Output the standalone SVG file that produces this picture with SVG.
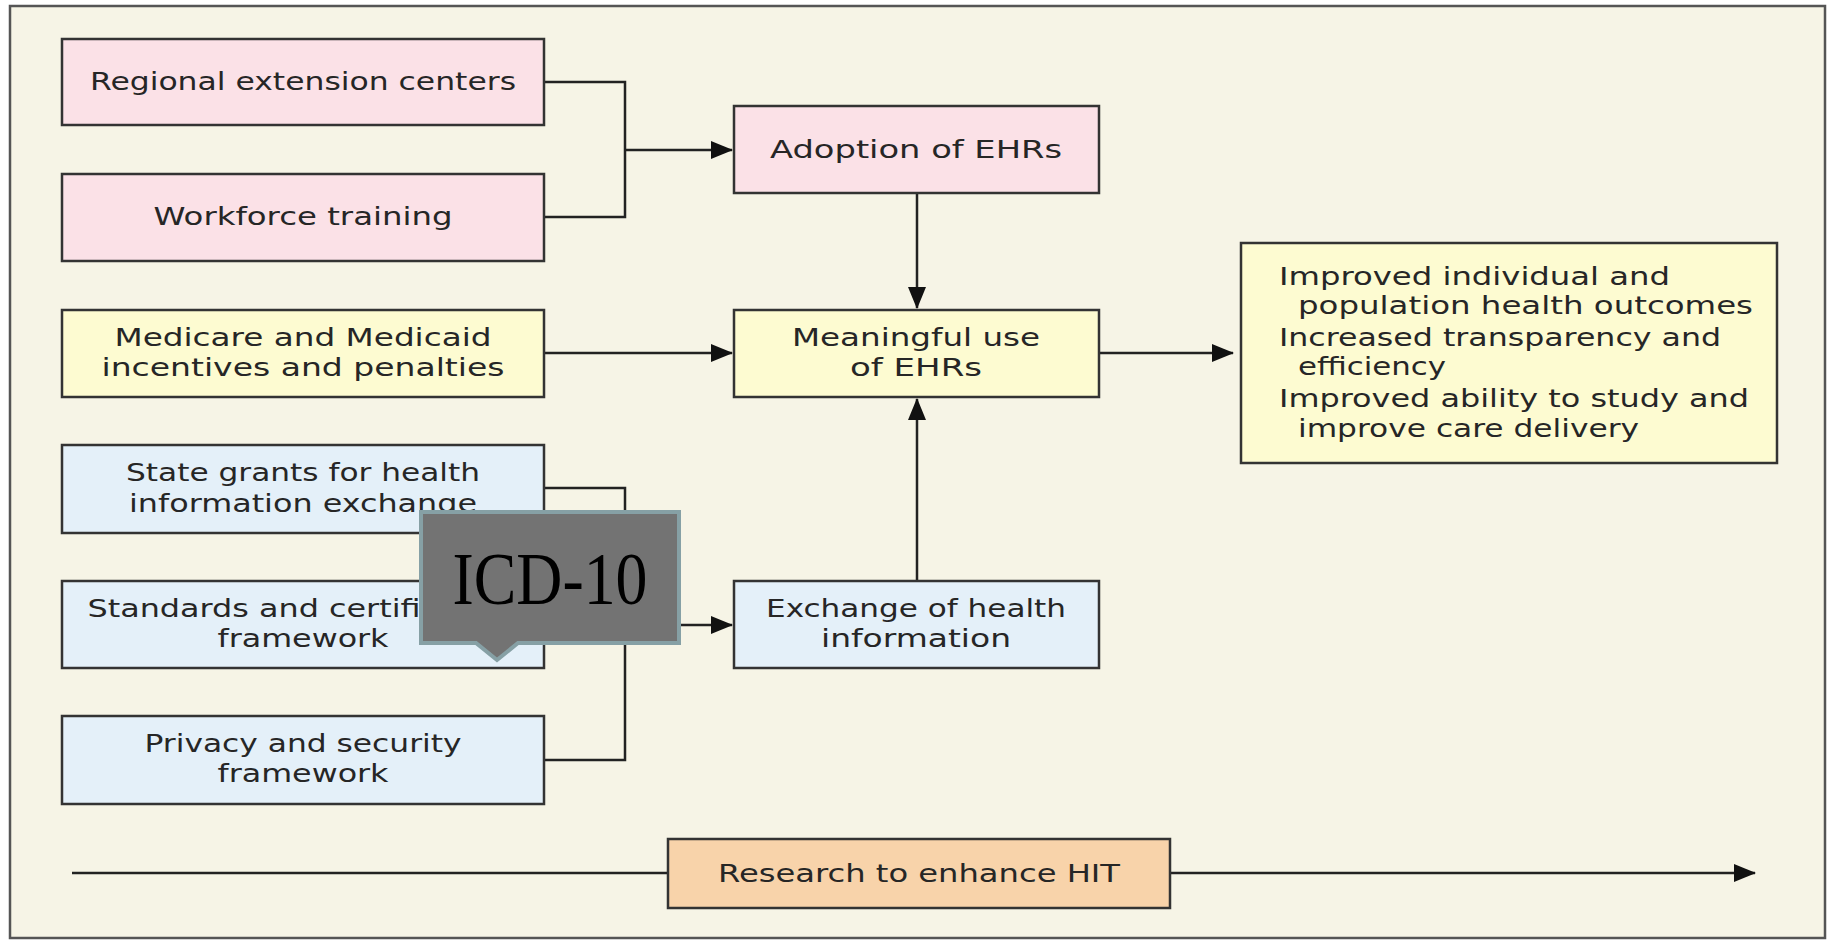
<svg xmlns="http://www.w3.org/2000/svg" width="1832" height="941" viewBox="0 0 1832 941">
<defs>
<marker id="ah" markerWidth="22" markerHeight="18" refX="21" refY="9" orient="auto" markerUnits="userSpaceOnUse" viewBox="0 0 22 18">
<path d="M0,0 L22,9 L0,18 z" fill="#111"/>
</marker>
<style>
.box{stroke:#333;stroke-width:2.5}
.pink{fill:#fbe1e7}
.yel{fill:#fdfbd1}
.blue{fill:#e4f0f9}
.org{fill:#f8d3aa}
.t{font-family:"DejaVu Sans","Liberation Sans",sans-serif;font-size:24px;fill:#262626;text-anchor:middle}
.tl{font-family:"DejaVu Sans","Liberation Sans",sans-serif;font-size:24px;fill:#262626}
.c{fill:none;stroke:#222;stroke-width:2.5}
</style>
</defs>
<rect x="0" y="0" width="1832" height="941" fill="#ffffff"/>
<rect x="10" y="6" width="1815" height="932" fill="#f6f4e6" stroke="#555" stroke-width="2.5"/>

<g id="connectors">
<path class="c" d="M544,82 H625 V217 H544"/>
<path class="c" d="M625,150 H732" marker-end="url(#ah)"/>
<path class="c" d="M917,193 V308" marker-end="url(#ah)"/>
<path class="c" d="M544,353 H732" marker-end="url(#ah)"/>
<path class="c" d="M1099,353 H1233" marker-end="url(#ah)"/>
<path class="c" d="M917,581 V399" marker-end="url(#ah)"/>
<path class="c" d="M544,488 H625 V760 H544"/>
<path class="c" d="M625,625 H732" marker-end="url(#ah)"/>
<path class="c" d="M72,873 H668"/>
<path class="c" d="M1170,873 H1755" marker-end="url(#ah)"/>
</g>

<g id="regional">
<rect class="box pink" x="62" y="39" width="482" height="86"/>
<text class="t" x="303" y="90" textLength="426" lengthAdjust="spacingAndGlyphs">Regional extension centers</text>
</g>
<g id="workforce">
<rect class="box pink" x="62" y="174" width="482" height="87"/>
<text class="t" x="303" y="225" textLength="299" lengthAdjust="spacingAndGlyphs">Workforce training</text>
</g>
<g id="adoption">
<rect class="box pink" x="734" y="106" width="365" height="87"/>
<text class="t" x="916" y="158" textLength="292" lengthAdjust="spacingAndGlyphs">Adoption of EHRs</text>
</g>
<g id="medicare">
<rect class="box yel" x="62" y="310" width="482" height="87"/>
<text class="t" x="303" y="346" textLength="377" lengthAdjust="spacingAndGlyphs">Medicare and Medicaid</text>
<text class="t" x="303" y="376" textLength="403" lengthAdjust="spacingAndGlyphs">incentives and penalties</text>
</g>
<g id="meaningful">
<rect class="box yel" x="734" y="310" width="365" height="87"/>
<text class="t" x="916" y="346" textLength="248" lengthAdjust="spacingAndGlyphs">Meaningful use</text>
<text class="t" x="916" y="376" textLength="132" lengthAdjust="spacingAndGlyphs">of EHRs</text>
</g>
<g id="outcomes">
<rect class="box yel" x="1241" y="243" width="536" height="220"/>
<text class="tl" x="1279" y="285" textLength="391" lengthAdjust="spacingAndGlyphs">Improved individual and</text>
<text class="tl" x="1298" y="314" textLength="455" lengthAdjust="spacingAndGlyphs">population health outcomes</text>
<text class="tl" x="1279" y="346" textLength="442" lengthAdjust="spacingAndGlyphs">Increased transparency and</text>
<text class="tl" x="1298" y="375" textLength="148" lengthAdjust="spacingAndGlyphs">efficiency</text>
<text class="tl" x="1279" y="407" textLength="470" lengthAdjust="spacingAndGlyphs">Improved ability to study and</text>
<text class="tl" x="1298" y="437" textLength="341" lengthAdjust="spacingAndGlyphs">improve care delivery</text>
</g>
<g id="stategrants">
<rect class="box blue" x="62" y="445" width="482" height="88"/>
<text class="t" x="303" y="481" textLength="354" lengthAdjust="spacingAndGlyphs">State grants for health</text>
<text class="t" x="303" y="512" textLength="348" lengthAdjust="spacingAndGlyphs">information exchange</text>
</g>
<g id="standards">
<rect class="box blue" x="62" y="581" width="482" height="87"/>
<text class="t" x="303" y="617" textLength="431" lengthAdjust="spacingAndGlyphs">Standards and certification</text>
<text class="t" x="303" y="647" textLength="171" lengthAdjust="spacingAndGlyphs">framework</text>
</g>
<g id="privacy">
<rect class="box blue" x="62" y="716" width="482" height="88"/>
<text class="t" x="303" y="752" textLength="317" lengthAdjust="spacingAndGlyphs">Privacy and security</text>
<text class="t" x="303" y="782" textLength="171" lengthAdjust="spacingAndGlyphs">framework</text>
</g>
<g id="exchange">
<rect class="box blue" x="734" y="581" width="365" height="87"/>
<text class="t" x="916" y="617" textLength="300" lengthAdjust="spacingAndGlyphs">Exchange of health</text>
<text class="t" x="916" y="647" textLength="190" lengthAdjust="spacingAndGlyphs">information</text>
</g>
<g id="research">
<rect class="box org" x="668" y="839" width="502" height="69"/>
<text class="t" x="919" y="882" textLength="402" lengthAdjust="spacingAndGlyphs">Research to enhance HIT</text>
</g>
<g id="icd10">
<path d="M421,512 H679 V643 H518 L497,660 L476,643 H421 Z" fill="#737373" stroke="#86a0a5" stroke-width="4"/>
<text x="550" y="604" font-family="'Liberation Serif','Times New Roman',serif" font-size="74" fill="#000" text-anchor="middle" textLength="195" lengthAdjust="spacingAndGlyphs">ICD-10</text>
</g>
</svg>
